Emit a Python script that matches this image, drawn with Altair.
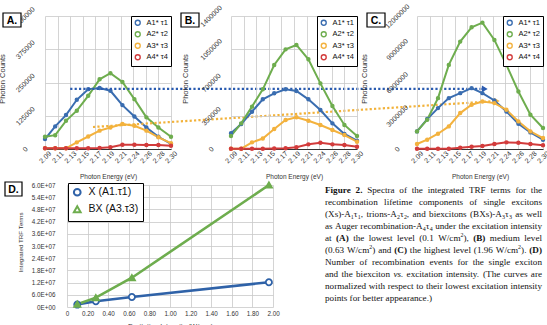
import re
import altair as alt
import pandas as pd

# ------------------------------------------------------------------ data
energy = [2.090, 2.107, 2.125, 2.143, 2.162, 2.181, 2.199, 2.219, 2.239, 2.259, 2.279, 2.300]
x_tick_labels = ["2.09", "2.11", "2.13", "2.15", "2.17", "2.19", "2.21", "2.24", "2.26", "2.28", "2.30"]
series_names = ["A1* τ1", "A2* τ2", "A3* τ3", "A4* τ4"]
series_colors = ["#3A6DB0", "#6EAD4E", "#F3B23E", "#D23B3B"]

a_A1 = [37500, 85000, 127500, 185000, 225000, 229000, 219000, 165000, 122500, 81000, 46000, 19000]
a_A2 = [46000, 52000, 106000, 144000, 200000, 262000, 285000, 252000, 187500, 119000, 81000, 46000]
a_A3 = [2500, 2500, 2500, 25000, 47000, 69000, 81000, 94000, 87500, 69000, 44000, 22000]
a_A4 = [2500, 2500, 2500, 2500, 2500, 3800, 6300, 16300, 16300, 15000, 15000, 12500]
a_yticks = [0, 125000, 250000, 375000, 500000]

b_A1 = [165000, 263000, 393000, 523000, 586000, 628000, 611000, 523000, 410000, 270000, 158000, 88000]
b_A2 = [137000, 270000, 446000, 628000, 884000, 1049000, 1095000, 944000, 691000, 453000, 253000, 137000]
b_A3 = [3000, 3000, 70000, 110000, 210000, 305000, 334000, 298000, 253000, 200000, 147000, 77000]
b_A4 = [3000, 3000, 3000, 3000, 5000, 8000, 18000, 49000, 66000, 49000, 42000, 24000]
b_yticks = [0, 350000, 700000, 1050000, 1400000]

c_A1 = [1590000, 2700000, 3690000, 4590000, 5040000, 5490000, 5040000, 4380000, 3390000, 2280000, 1500000, 840000]
c_A2 = [1590000, 2640000, 4590000, 7590000, 9690000, 10980000, 11400000, 9840000, 7590000, 5190000, 3090000, 1890000]
c_A3 = [450000, 840000, 1380000, 2040000, 3240000, 3990000, 4290000, 4140000, 3540000, 2490000, 1590000, 990000]
c_A4 = [30000, 30000, 30000, 30000, 117000, 210000, 270000, 450000, 600000, 570000, 450000, 330000]
c_yticks = [0, 3000000, 6000000, 9000000, 12000000]

# dashed guide lines (in panel A coordinates) + arrow heads
guide_colors = ["#2A5BB0", "#F2B23A"]
guide_x0 = [2.132, 2.170]
guide_x1 = [2.823, 2.843]
guide_y0 = [226000, 82700]
guide_y1 = [226000, 180400]

intensity = [0.10, 0.28, 0.63, 1.96]
d_X = [1.2e6, 2.8e6, 4.9e6, 12.2e6]
d_BX = [1.4e6, 4.6e6, 14.4e6, 60.0e6]
d_names = ["X (A1.τ1)", "BX (A3.τ3)"]
d_colors = ["#2F62A8", "#6EAD4E"]
d_yticks = [0, 6e6, 1.2e7, 1.8e7, 2.4e7, 3.0e7, 3.6e7, 4.2e7, 4.8e7, 5.4e7, 6.0e7]
d_ytick_labels = ["0E+00", "6.0E+06", "1.2E+07", "1.8E+07", "2.4E+07", "3.0E+07",
                  "3.6E+07", "4.2E+07", "4.8E+07", "5.4E+07", "6.0E+07"]
d_xticks = [0, 0.2, 0.4, 0.6, 0.8, 1.0, 1.2, 1.4, 1.6, 1.8, 2.0]
d_xtick_labels = ["0", "0.20", "0.40", "0.60", "0.80", "1.00", "1.20", "1.40", "1.60", "1.80", "2.00"]

caption_lines = [
    "{b:Figure} {b:2.} Spectra of the integrated TRF terms for the",
    "recombination lifetime components of single excitons",
    "(Xs)-A{sub:1}τ{sub:1}, trions-A{sub:2}τ{sub:2}, and biexcitons (BXs)-A{sub:3}τ{sub:3} as well",
    "as Auger recombination-A{sub:4}τ{sub:4} under the excitation intensity",
    "at {b:(A)} the lowest level (0.1 W/cm{sup:2}), {b:(B)} medium level",
    "(0.63 W/cm{sup:2}) and {b:(C)} the highest level (1.96 W/cm{sup:2}). {b:(D)}",
    "Number of recombination events for the single exciton",
    "and the biexciton {i:vs.} excitation intensity. (The curves are",
    "normalized with respect to their lowest excitation intensity",
    "points for better appearance.)",
]

# ------------------------------------------------------------------ layout constants
PW, PH = 126, 133          # top panel plot size
DW, DH = 126, 122          # bottom panel group size (layout cell)
D_X0, D_X1 = 22, 228       # D plot x range inside its group
FONT = "Liberation Sans"
GRID = "#c9c9c9"

xmin, xmax = energy[0], energy[-1]
xstep = (xmax - xmin) / (len(x_tick_labels) - 1)
x_tick_vals = [xmin + i * xstep for i in range(len(x_tick_labels))]
x_label_expr = "[" + ",".join("'%s'" % s for s in x_tick_labels) + "][round((datum.value-%g)/%g)]" % (xmin, xstep)


def panel(vals, yticks, letter, box, title_x, guides=False):
    rows = []
    for s, arr in zip(series_names, vals):
        for e, v in zip(energy, arr):
            rows.append({"energy": e, "series": s, "counts": v})
    df = pd.DataFrame(rows)
    ymax = yticks[-1]
    leg = alt.Legend(orient="top-right", offset=0, title=None, strokeColor="black",
                     fillColor="white", padding=3, rowPadding=0.5, labelFontSize=7.5,
                     labelFont=FONT, labelColor="#111", symbolType="circle",
                     symbolSize=24, symbolStrokeWidth=1.4, symbolFillColor="white",
                     labelOffset=5, cornerRadius=0)
    xenc = alt.X("energy:Q", scale=alt.Scale(domain=[xmin, xmax], nice=False, zero=False),
                 axis=alt.Axis(values=x_tick_vals, tickCount=40, labelExpr=x_label_expr,
                               labelAngle=315, labelAlign="center", labelBaseline="middle",
                               labelPadding=8, ticks=False, tickSize=0, labelFontSize=7,
                               labelColor="#333", grid=True, gridColor=GRID, gridWidth=0.8,
                               domain=True, domainColor="#333", domainWidth=1,
                               title="Photon Energy (eV)", titleFontSize=6.5,
                               titleFontWeight="normal", titleColor="#333",
                               titleX=PW / 2, titleY=27, titleBaseline="middle",
                               labelOverlap=False, labelFlush=False, labelBound=False))
    yenc = alt.Y("counts:Q", scale=alt.Scale(domain=[0, ymax], nice=False),
                 axis=alt.Axis(values=yticks, tickCount=40, format="d", labelAngle=315,
                               labelAlign="center", labelBaseline="middle", labelPadding=20,
                               ticks=False, tickSize=0, labelFontSize=7, labelColor="#333",
                               grid=True, gridColor=GRID, gridWidth=0.8, domain=False,
                               title="Photon Counts", titleFontSize=7.5,
                               titleFontWeight="normal", titleColor="#333",
                               titleX=title_x, titleY=PH / 2 - 4, titleBaseline="middle",
                               titleAngle=270, labelOverlap=False, labelBound=False))
    cenc = alt.Color("series:N", scale=alt.Scale(domain=series_names, range=series_colors),
                     legend=leg)
    base = alt.Chart(df).encode(x=xenc, y=yenc, color=cenc)
    layers = [base.mark_line(strokeWidth=2),
              base.mark_point(filled=False, size=5, strokeWidth=2.2, opacity=1)]
    if guides:
        for gc, gx0, gx1, gy0, gy1 in zip(guide_colors, guide_x0, guide_x1, guide_y0, guide_y1):
            gdf = pd.DataFrame({"energy": [gx0], "e2": [gx1], "counts": [gy0], "c2": [gy1]})
            layers.append(alt.Chart(gdf).mark_rule(strokeWidth=2.2, strokeDash=[2.2, 2.2],
                                                   color=gc).encode(
                x="energy:Q", x2="e2:Q", y="counts:Q", y2="c2:Q"))
            layers.append(alt.Chart(gdf).mark_point(shape="triangle-right", filled=True, size=45,
                                                    opacity=1, color=gc).encode(
                x="e2:Q", y="c2:Q"))
    lab = pd.DataFrame({"t": [letter]})
    layers.append(alt.Chart(lab).mark_rect(fill="white", stroke="black", strokeWidth=1.2).encode(
        x=alt.value(box), x2=alt.value(box + 18), y=alt.value(-3), y2=alt.value(11)))
    layers.append(alt.Chart(lab).mark_text(font=FONT, fontWeight="bold", fontSize=10.5,
                                           align="center", baseline="middle", color="black").encode(
        text="t:N", x=alt.value(box + 9), y=alt.value(4.5)))
    return alt.layer(*layers).properties(width=PW, height=PH)


pA = panel([a_A1, a_A2, a_A3, a_A4], a_yticks, "A.", -42, -43, guides=True)
pB = panel([b_A1, b_A2, b_A3, b_A4], b_yticks, "B.", -50, -46)
pC = panel([c_A1, c_A2, c_A3, c_A4], c_yticks, "C.", -50, -53)

# ------------------------------------------------------------------ caption layout
REG = dict(zip("abcdefghijklmnopqrstuvwxyz",
               [444, 500, 444, 500, 444, 333, 500, 500, 278, 278, 500, 278, 778, 500, 500, 500,
                500, 333, 389, 278, 500, 500, 722, 500, 500, 444]))
REG.update(zip("ABCDEFGHIJKLMNOPQRSTUVWXYZ",
               [722, 667, 667, 722, 611, 556, 722, 722, 333, 389, 722, 611, 889, 722, 722, 556,
                722, 667, 556, 611, 722, 722, 944, 722, 722, 611]))
REG.update({c: 500 for c in "0123456789"})
REG.update({" ": 250, ".": 250, ",": 250, "(": 333, ")": 333, "-": 333, "/": 278, "τ": 440})
BOLD = dict(REG)
BOLD.update(zip("abcdefghijklmnopqrstuvwxyz",
                [500, 556, 444, 556, 444, 333, 500, 556, 278, 333, 556, 278, 833, 556, 500, 556,
                 556, 444, 389, 333, 556, 500, 722, 500, 500, 444]))
BOLD.update({"A": 722, "B": 667, "C": 722, "D": 722, "F": 611})
ITAL = dict(REG)
ITAL.update({"v": 444, "s": 389})
TABLES = {"r": REG, "b": BOLD, "i": ITAL}

TOK = re.compile(r"\{(b|i|sub|sup):([^}]*)\}|([^{]+)")


def parse(word):
    segs = []
    for m in TOK.finditer(word):
        if m.group(3):
            segs.append((m.group(3), "r"))
        else:
            segs.append((m.group(2), m.group(1)))
    return segs


def seg_em(text, kind):
    style = kind if kind in ("b", "i") else "r"
    scale = 0.65 if kind in ("sub", "sup") else 1.0
    return sum(TABLES[style].get(ch, 500) for ch in text) / 1000.0 * scale


CAP_X0, CAP_X1 = 280, 497      # caption box inside D group (px)
CAP_Y0, CAP_DY = 7.5, 12.0     # first baseline and line step (px)
cap_w = CAP_X1 - CAP_X0
words_all = [[parse(w) for w in ln.split(" ")] for ln in caption_lines]
line_em = [sum(seg_em(t, k) for w in ws for t, k in w) + 0.25 * (len(ws) - 1) for ws in words_all]
FS = min(9.6, cap_w / max(line_em[:-1]) * 0.995)


def px_to_x(px):
    return (px - D_X0) / (D_X1 - D_X0) * 2.0


def py_to_y(py):
    return (DH - py) / DH * 6.0e7


cap_rows = []
for li, ws in enumerate(words_all):
    widths = [sum(seg_em(t, k) for t, k in w) * FS for w in ws]
    if li < len(words_all) - 1 and len(ws) > 1:
        gap = (cap_w - sum(widths)) / (len(ws) - 1)
    else:
        gap = 0.25 * FS
    cx = CAP_X0
    base_y = CAP_Y0 + li * CAP_DY
    for w, wd in zip(ws, widths):
        sx = cx
        for t, k in w:
            size = FS * (0.65 if k in ("sub", "sup") else 1.0)
            dy = 2.2 if k == "sub" else (-3.6 if k == "sup" else 0.0)
            style = k if k in ("b", "i") else "r"
            cap_rows.append({"intensity": px_to_x(sx), "terms": py_to_y(base_y + dy),
                             "t": t, "fs": size, "style": style})
            sx += seg_em(t, k) * FS
        cx += wd + gap
cap_df = pd.DataFrame(cap_rows)

# ------------------------------------------------------------------ panel D
d_rows = []
for n, arr in zip(d_names, [d_X, d_BX]):
    for xi, v in zip(intensity, arr):
        d_rows.append({"intensity": xi, "terms": v, "series": n})
d_df = pd.DataFrame(d_rows)

d_x = alt.X("intensity:Q", scale=alt.Scale(domain=[0, 2], range=[D_X0, D_X1], nice=False),
            axis=alt.Axis(values=d_xticks, tickCount=40,
                          labelExpr="[" + ",".join("'%s'" % s for s in d_xtick_labels) + "][round(datum.value/0.2)]",
                          labelFontSize=6.3, labelColor="#333", labelPadding=3, ticks=False, tickSize=0,
                          labelBaseline="top", grid=True, gridColor=GRID, gridWidth=0.8,
                          domain=False, title="Excitation Intensity (W/cm²)", titleFontSize=7,
                          titleFontWeight="normal", titleColor="#333",
                          titleX=(D_X0 + D_X1) / 2, titleY=15, titleBaseline="top",
                          labelOverlap=False, labelFlush=False, labelBound=False))
d_y = alt.Y("terms:Q", scale=alt.Scale(domain=[0, 6e7], nice=False),
            axis=alt.Axis(values=d_yticks, tickCount=40,
                          labelExpr="[" + ",".join("'%s'" % s for s in d_ytick_labels) + "][round(datum.value/6000000)]",
                          offset=-D_X0, labelFontSize=6.3, labelColor="#333", labelPadding=12,
                          ticks=False, tickSize=0, grid=True, gridColor=GRID, gridWidth=0.8,
                          domain=False, title="Integrated TRF Terms", titleFontSize=6.2,
                          titleFontWeight="normal", titleColor="#333", titleX=-47,
                          titleY=DH / 2 - 4, titleBaseline="middle", titleAngle=270,
                          labelOverlap=False, labelBound=False))
d_leg = alt.Legend(orient="none", legendX=D_X0 + 1, legendY=-2, title=None, strokeColor="black",
                   fillColor="white", padding=4, rowPadding=2, labelFontSize=10.5, labelFont=FONT,
                   labelColor="#111", symbolSize=45, symbolStrokeWidth=2, symbolFillColor="white",
                   labelOffset=6)
d_color = alt.Color("series:N", scale=alt.Scale(domain=d_names, range=d_colors), legend=d_leg)
d_shape = alt.Shape("series:N", scale=alt.Scale(domain=d_names, range=["circle", "triangle-up"]),
                    legend=d_leg)

d_line = alt.Chart(d_df).mark_line(strokeWidth=2.6).encode(x=d_x, y=d_y, color=d_color)
d_pts = alt.Chart(d_df).mark_point(size=38, strokeWidth=1.8, opacity=1, fill="white").encode(
    x=d_x, y=d_y, color=d_color, shape=d_shape)
d_tri = alt.Chart(d_df).transform_filter(alt.datum.series == d_names[1]).mark_point(
    size=45, filled=True, opacity=1, shape="triangle-up", color=d_colors[1]).encode(x=d_x, y=d_y)

cap_layers = []
for style, weight, fstyle in [("r", "normal", "normal"), ("b", "bold", "normal"), ("i", "normal", "italic")]:
    cap_layers.append(alt.Chart(cap_df).transform_filter(alt.datum.style == style).mark_text(
        font="Liberation Serif", fontWeight=weight, fontStyle=fstyle, align="left",
        baseline="alphabetic", color="#111").encode(
        x="intensity:Q", y="terms:Q", text="t:N", size=alt.Size("fs:Q", scale=None)))

d_lab = pd.DataFrame({"t": ["D."]})
d_box = alt.Chart(d_lab).mark_rect(fill="white", stroke="black", strokeWidth=1.2).encode(
    x=alt.value(-40), x2=alt.value(-23), y=alt.value(-3), y2=alt.value(11))
d_txt = alt.Chart(d_lab).mark_text(font=FONT, fontWeight="bold", fontSize=10.5, align="center",
                                   baseline="middle", color="black").encode(
    text="t:N", x=alt.value(-31.5), y=alt.value(4.5))

pD = alt.layer(d_line, d_pts, d_tri, *cap_layers, d_box, d_txt).properties(width=DW, height=DH)

# ------------------------------------------------------------------ assemble
chart = alt.concat(pA, pB, pC, pD, columns=3, spacing={"row": 36, "column": 60},
                   bounds="flush").resolve_scale(
    color="independent", shape="independent"
).resolve_legend(color="independent", shape="independent").properties(
    autosize=alt.AutoSizeParams(type="none"),
    padding={"left": 45, "top": 16, "right": 502, "bottom": 309},
    background="white",
).configure_view(strokeWidth=0).configure_axis(
    labelFont=FONT, titleFont=FONT
)

chart.save("out.html", embed_options={"renderer": "svg", "actions": False})
